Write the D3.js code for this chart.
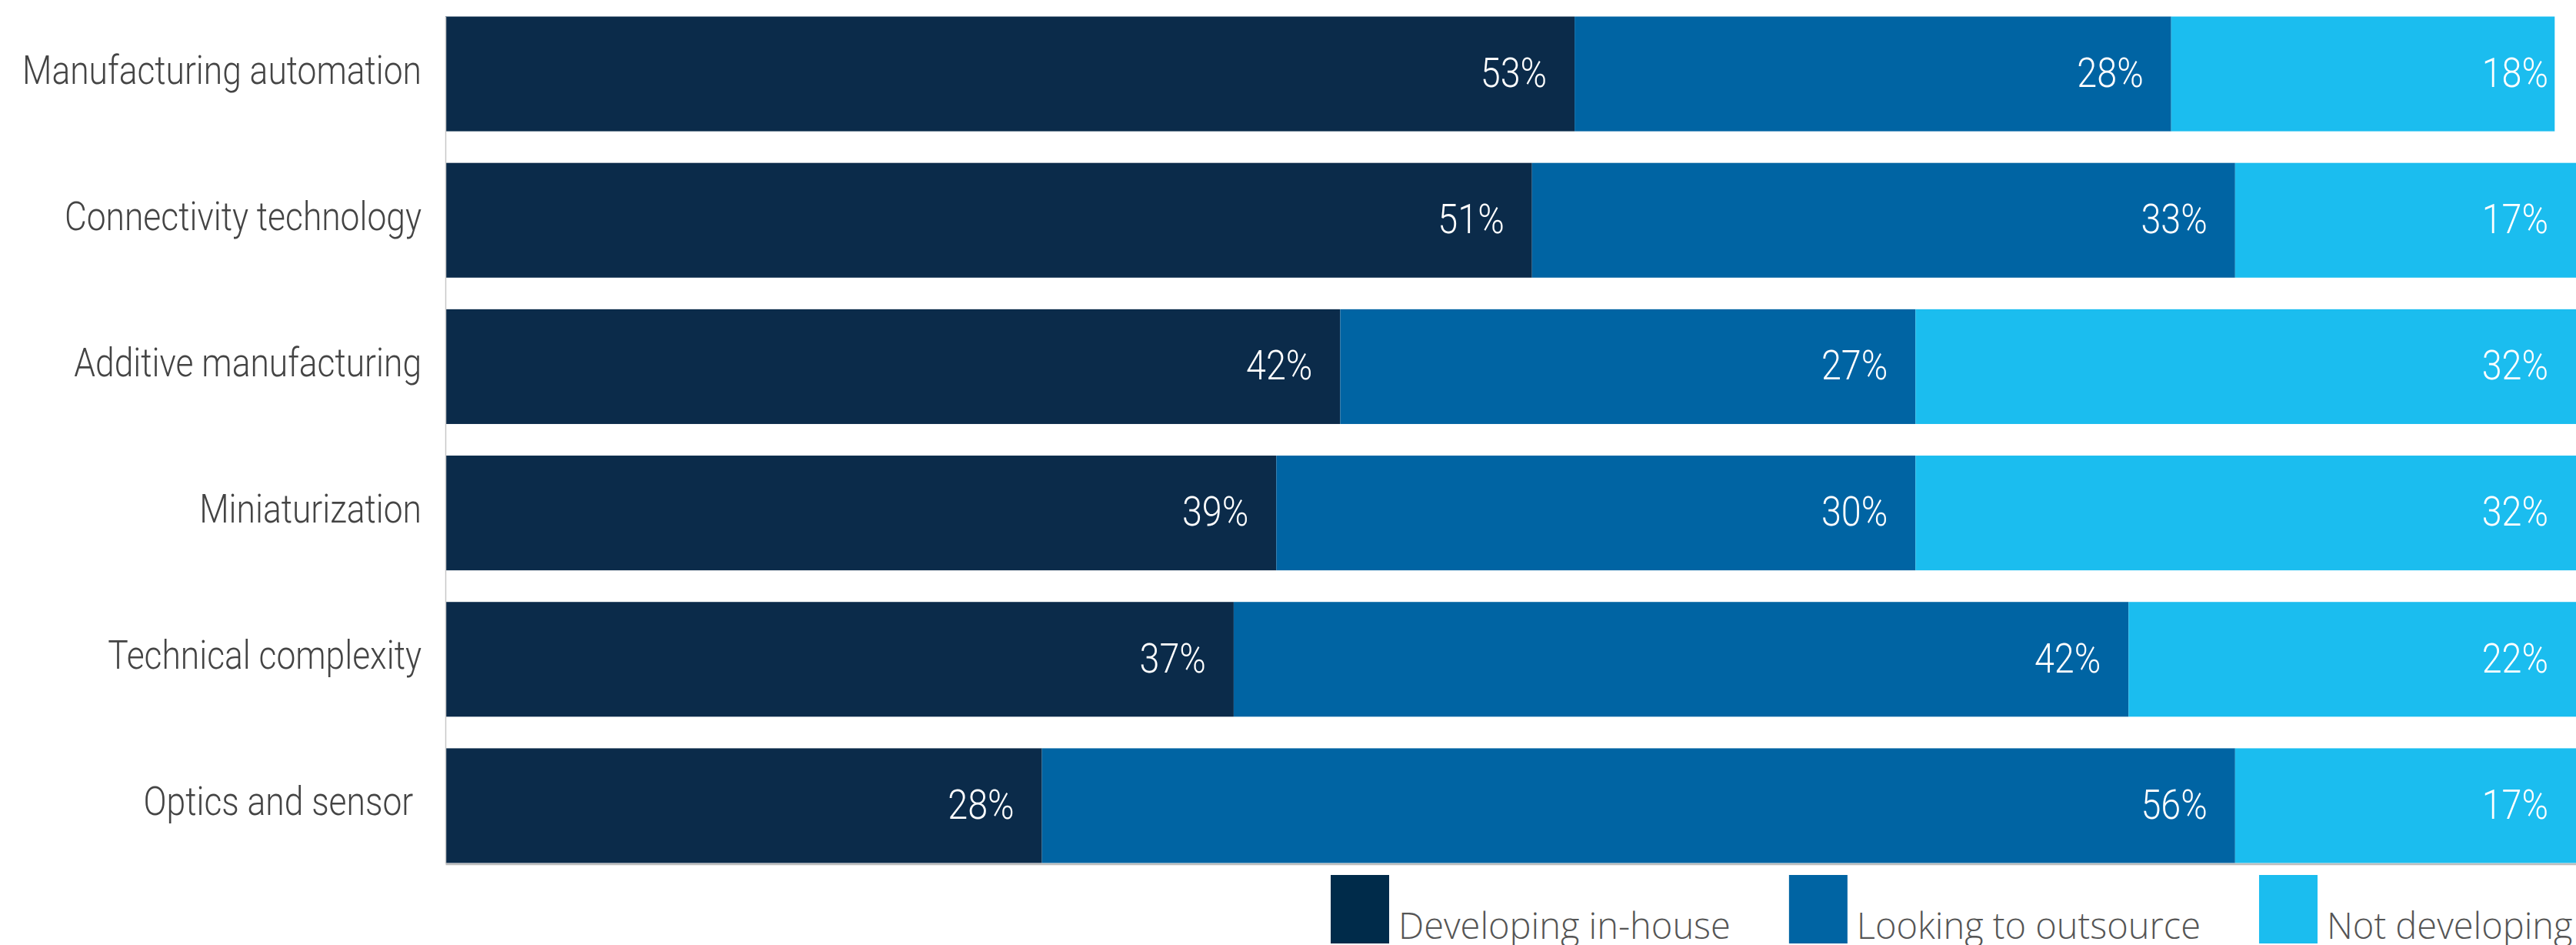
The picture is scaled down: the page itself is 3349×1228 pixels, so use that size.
<!DOCTYPE html>
<html>
<head>
<meta charset="utf-8">
<script src="https://cdn.jsdelivr.net/npm/d3@7"></script>
<style>
  html, body { margin: 0; padding: 0; background: #ffffff; }
  svg { display: block; }
</style>
</head>
<body>
<svg id="chart" width="3349" height="1228"></svg>
<script>
// Survey shares by technology area (percent of respondents)
const categories = [
  "Manufacturing automation",
  "Connectivity technology",
  "Additive manufacturing",
  "Miniaturization",
  "Technical complexity",
  "Optics and sensor "
];
const developingInHouse = [53, 51, 42, 39, 37, 28];
const lookingToOutsource = [28, 33, 27, 30, 42, 56];
const notDeveloping = [18, 17, 32, 32, 22, 17];
const seriesNames = ["Developing in-house", "Looking to outsource", "Not developing"];
const seriesColors = ["#0b2b4a", "#0064a3", "#1bbdef"];
const legendColors = ["#002b4a", "#0064a3", "#1bbdef"];

const W = 3349, H = 1228;
const plot = { left: 579, right: 3349, top: 21.5, bottom: 1121.5 };
const squeezeValues = 0.865; // narrow the sans face horizontally
const squeezeLabels = 0.853;

const rows = categories.map((c, i) => ({
  category: c,
  [seriesNames[0]]: developingInHouse[i],
  [seriesNames[1]]: lookingToOutsource[i],
  [seriesNames[2]]: notDeveloping[i]
}));
const stacked = d3.stack().keys(seriesNames)(rows);

const x = d3.scaleLinear().domain([0, 100]).range([plot.left, plot.right]);
const y = d3.scaleBand().domain(categories)
  .range([plot.top, plot.bottom]).paddingInner(0.216).paddingOuter(0);
const color = d3.scaleOrdinal().domain(seriesNames).range(seriesColors);

const svg = d3.select("#chart");

// stacked bars
const layer = svg.append("g").selectAll("g")
  .data(stacked).join("g")
  .attr("fill", d => color(d.key));
layer.selectAll("rect")
  .data(d => d.map(p => ({ p, cat: p.data.category })))
  .join("rect")
  .attr("x", d => x(d.p[0]))
  .attr("y", d => y(d.cat))
  .attr("width", d => x(d.p[1]) - x(d.p[0]))
  .attr("height", y.bandwidth());

// value labels, right-aligned inside each segment
const pad = 36;
const lastKey = seriesNames[seriesNames.length - 1];
svg.append("g").selectAll("g")
  .data(stacked).join("g")
  .selectAll("text")
  .data(s => s.map(p => ({ key: s.key, p, cat: p.data.category, v: p.data[s.key] })))
  .join("text")
  .attr("transform", d => {
    const end = d.key === lastKey ? x.range()[1] : Math.min(x(d.p[1]), x.range()[1]);
    const cy = y(d.cat) + y.bandwidth() / 2;
    return `translate(${end - pad},${cy}) scale(${squeezeValues},1)`;
  })
  .attr("dy", "0.31em")
  .attr("text-anchor", "end")
  .attr("fill", "#ffffff")
  .style("font-family", "Roboto, 'Noto Sans', sans-serif")
  .style("font-weight", 300)
  .style("font-size", "54px")
  .text(d => d.v + "%");

// category axis
const yAxis = svg.append("g")
  .attr("transform", `translate(${plot.left},0)`)
  .call(d3.axisLeft(y).tickSize(0).tickSizeOuter(0).tickPadding(0));
yAxis.select(".domain").attr("stroke", "#c8c8c8").attr("stroke-width", 1.5);
yAxis.selectAll(".tick text")
  .attr("x", null)
  .attr("dy", "0.24em")
  .attr("transform", `translate(-31,0) scale(${squeezeLabels},1)`)
  .attr("fill", "#444444")
  .style("white-space", "pre")
  .style("font-family", "Roboto, 'Noto Sans', sans-serif")
  .style("font-weight", 300)
  .style("font-size", "52px");

// baseline along the bottom of the bars
const xAxis = svg.append("g")
  .attr("transform", `translate(0,${plot.bottom + 1})`)
  .call(d3.axisBottom(x).ticks(0).tickSize(0).tickSizeOuter(0).tickFormat(""));
xAxis.select(".domain").attr("stroke", "#bdbdbd").attr("stroke-width", 2.5);
xAxis.selectAll(".tick").remove();

// legend, laid out left to right
const legend = svg.append("g").attr("class", "legend");
let lx = 1730;
seriesNames.forEach((name, i) => {
  const item = legend.append("g").attr("transform", `translate(${lx},0)`);
  item.append("rect")
    .attr("x", 0).attr("y", 1137)
    .attr("width", 76).attr("height", 89)
    .attr("fill", legendColors[i]);
  const t = item.append("text")
    .attr("x", 88).attr("y", 1220)
    .attr("fill", "#555555")
    .style("font-family", "'Open Sans', sans-serif")
    .style("font-weight", 300)
    .style("font-size", "47px")
    .text(name);
  lx += 88 + t.node().getComputedTextLength() + 76;
});
</script>
</body>
</html>
